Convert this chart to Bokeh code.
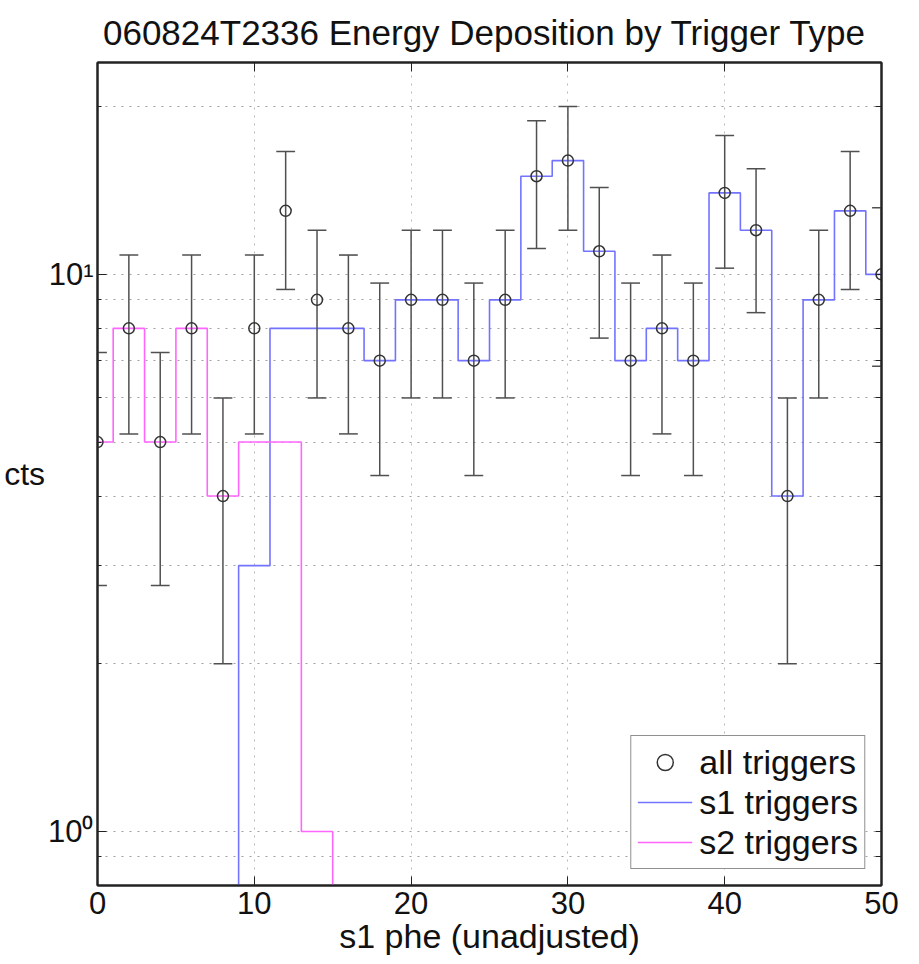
import numpy as np
from bokeh.plotting import figure
from bokeh.models import (Range1d, FixedTicker, LinearAxis, LogAxis,
                          Legend, LegendItem)
from bokeh.embed import file_html
from bokeh.resources import INLINE

# ---------------- data ----------------
bin_centers = [0, 2, 4, 6, 8, 10, 12, 14, 16, 18, 20, 22, 24, 26, 28, 30,
               32, 34, 36, 38, 40, 42, 44, 46, 48, 50]
all_triggers = [5, 8, 5, 8, 4, 8, 13, 9, 8, 7, 9, 9, 7, 9, 15, 16,
                11, 7, 8, 7, 14, 12, 4, 9, 13, 10]
s1_triggers = [0, 0, 0, 0, 0, 3, 8, 8, 8, 7, 9, 9, 7, 9, 15, 16,
               11, 7, 8, 7, 14, 12, 4, 9, 13, 10]
s2_triggers = [5, 8, 5, 8, 4, 5, 5, 1, 0, 0, 0, 0, 0, 0, 0, 0,
               0, 0, 0, 0, 0, 0, 0, 0, 0, 0]
x_ticks = [0, 10, 20, 30, 40, 50]
y_major_ticks = [1, 10]
y_minor_ticks = [0.9, 2, 3, 4, 5, 6, 7, 8, 9, 20]
y_tick_labels = {1: "10\u2070", 10: "10\u00b9"}
title_text = "060824T2336  Energy Deposition by Trigger Type"
x_label = "s1 phe (unadjusted)"
y_label = "cts"
series_names = ["all triggers", "s1 triggers", "s2 triggers"]

FONT = "Liberation Sans"

x = np.array(bin_centers, dtype=float)
n_all = np.array(all_triggers, dtype=float)
err = np.sqrt(n_all)
floor = 0.1  # empty bins fall below the visible log range
s1_plot = np.where(np.array(s1_triggers) > 0, s1_triggers, floor)
s2_plot = np.where(np.array(s2_triggers) > 0, s2_triggers, floor)

p = figure(width=919, height=964, x_range=Range1d(0, 50),
           y_range=Range1d(0.8, 24), y_axis_type="log",
           output_backend="svg", toolbar_location=None,
           min_border_left=97, min_border_right=38,
           min_border_top=62, min_border_bottom=79,
           background_fill_color="white", border_fill_color="white")

p.title.text = title_text
p.title.align = "center"
p.title.text_font = FONT
p.title.text_font_size = "35px"
p.title.text_font_style = "normal"
p.title.text_color = "#111111"
p.title.standoff = 21

p.outline_line_color = "#222222"
p.outline_line_width = 2

# axes
xa = p.xaxis[0]
xa.ticker = FixedTicker(ticks=x_ticks)
xa.major_label_text_font = FONT
xa.major_label_text_font_size = "31px"
xa.major_label_text_color = "#111111"
xa.major_label_standoff = 6
xa.axis_label = x_label
xa.axis_label_text_font = FONT
xa.axis_label_text_font_size = "34px"
xa.axis_label_text_font_style = "normal"
xa.axis_label_text_color = "#111111"
xa.axis_label_standoff = 0
xa.major_tick_in = 9
xa.major_tick_out = 0
xa.minor_tick_in = 0
xa.minor_tick_out = 0
xa.axis_line_color = "#222222"
xa.axis_line_width = 2
xa.major_tick_line_color = "#222222"

ya = p.yaxis[0]
ya.ticker = FixedTicker(ticks=y_major_ticks, minor_ticks=y_minor_ticks)
ya.major_label_overrides = y_tick_labels
ya.major_label_text_font = FONT
ya.major_label_text_font_size = "31px"
ya.major_label_text_color = "#111111"
ya.major_label_standoff = 4
ya.axis_label = y_label
ya.axis_label_orientation = "horizontal"
ya.axis_label_text_font = FONT
ya.axis_label_text_font_size = "32px"
ya.axis_label_text_font_style = "normal"
ya.axis_label_text_color = "#111111"
ya.axis_label_standoff = 0
ya.major_tick_in = 9
ya.major_tick_out = 0
ya.minor_tick_in = 4
ya.minor_tick_out = 0
ya.axis_line_color = "#222222"
ya.axis_line_width = 2
ya.major_tick_line_color = "#222222"
ya.minor_tick_line_color = "#222222"

# box ticks on top / right: only "minor" ticks so that no labels are produced
top_axis = LinearAxis(ticker=FixedTicker(ticks=[], minor_ticks=x_ticks[1:-1]),
                      major_tick_in=0, major_tick_out=0,
                      minor_tick_in=9, minor_tick_out=0,
                      axis_line_color="#222222", axis_line_width=2,
                      minor_tick_line_color="#222222")
p.add_layout(top_axis, "above")

right_axis = LogAxis(ticker=FixedTicker(ticks=[], minor_ticks=y_major_ticks + y_minor_ticks),
                     major_tick_in=0, major_tick_out=0,
                     minor_tick_in=6, minor_tick_out=0,
                     axis_line_color="#222222", axis_line_width=2,
                     minor_tick_line_color="#222222")
p.add_layout(right_axis, "right")

# grids (dotted)
p.xgrid.grid_line_color = "#b8b8b8"
p.xgrid.grid_line_dash = "2 6"
p.xgrid.grid_line_width = 1
p.ygrid.grid_line_color = "#a0a0a0"
p.ygrid.grid_line_dash = "2 6"
p.ygrid.grid_line_width = 1
p.ygrid.minor_grid_line_color = "#a0a0a0"
p.ygrid.minor_grid_line_dash = "2 6"
p.ygrid.minor_grid_line_width = 1

# stairs
r1 = p.step(x, s1_plot, mode="center", line_color="#7373ff", line_width=1.6)
r2 = p.step(x, s2_plot, mode="center", line_color="#ff66ff", line_width=1.6)

# error bars
cap = 0.6
p.segment(x0=x, y0=n_all - err, x1=x, y1=n_all + err,
          line_color="#505050", line_width=1.5)
p.segment(x0=x - cap, y0=n_all + err, x1=x + cap, y1=n_all + err,
          line_color="#505050", line_width=1.5)
p.segment(x0=x - cap, y0=n_all - err, x1=x + cap, y1=n_all - err,
          line_color="#505050", line_width=1.5)

r0 = p.scatter(x, n_all, marker="circle", size=11, fill_color=None,
               line_color="#333333", line_width=1.5)

legend = Legend(items=[LegendItem(label=series_names[0], renderers=[r0]),
                       LegendItem(label=series_names[1], renderers=[r1]),
                       LegendItem(label=series_names[2], renderers=[r2])],
                location="bottom_right", margin=16, padding=6, spacing=0,
                label_text_font=FONT, label_text_font_size="34px",
                label_text_color="#111111",
                label_height=40, glyph_height=40, glyph_width=55,
                label_standoff=7,
                border_line_color="#222222", border_line_width=1.5,
                background_fill_color="white", background_fill_alpha=1.0)
p.add_layout(legend)

open("out.html", "w").write(file_html(p, INLINE))
